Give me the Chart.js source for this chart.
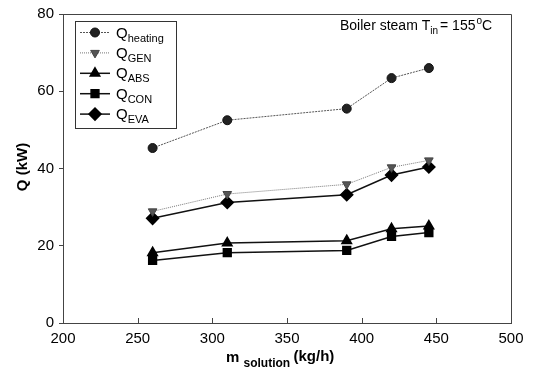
<!DOCTYPE html>
<html>
<head>
<meta charset="utf-8">
<script src="https://cdn.jsdelivr.net/npm/chart.js@4.4.1/dist/chart.umd.min.js"></script>
<style>
  html, body { margin: 0; padding: 0; background: #fff; }
  #wrap { width: 534px; height: 373px; }
</style>
</head>
<body>
<div id="wrap"><canvas id="myChart" width="534" height="373"></canvas></div>
<script>
// solution mass flow (kg/h)
const flow = [260, 310, 390, 420, 445];

// heat loads (kW)
const qHeating = [45.3, 52.5, 55.5, 63.4, 66.0];
const qGen = [28.9, 33.4, 35.9, 40.3, 42.1];
const qAbs = [18.2, 20.7, 21.3, 24.4, 25.1];
const qCon = [16.2, 18.2, 18.8, 22.4, 23.4];
const qEva = [27.1, 31.2, 33.2, 38.3, 40.4];

const seriesNames = ['heating', 'GEN', 'ABS', 'CON', 'EVA'];
const xTicks = [200, 250, 300, 350, 400, 450, 500];
const yTicks = [0, 20, 40, 60, 80];

const FONT = 'Arial, "Liberation Sans", sans-serif';

function pts(ys) {
    return flow.map((x, i) => ({ x: x, y: ys[i] }));
}

// "Q" with a lowered subscript, returns end x
function subText(ctx, base, sub, x, y, size, subSize, drop, bold) {
    const w = bold ? 'bold ' : '';
    ctx.font = w + size + 'px ' + FONT;
    ctx.fillText(base, x, y);
    let nx = x + ctx.measureText(base).width;
    ctx.font = w + subSize + 'px ' + FONT;
    ctx.fillText(sub, nx, y + drop);
    return nx + ctx.measureText(sub).width;
}

// frame, inward x ticks, legend box, annotation and axis titles
const decorations = {
    id: 'decorations',
    afterDraw(chart) {
        const ctx = chart.ctx;
        const area = chart.chartArea;
        const xs = chart.scales.x;
        ctx.save();
        ctx.strokeStyle = '#444';
        ctx.lineWidth = 1;
        ctx.beginPath();
        ctx.moveTo(area.left, area.top + 0.5);
        ctx.lineTo(area.right + 0.5, area.top + 0.5);
        ctx.lineTo(area.right + 0.5, area.bottom);
        ctx.stroke();

        // x ticks point into the plot
        ctx.beginPath();
        xTicks.slice(1, -1).forEach(v => {
            const px = Math.round(xs.getPixelForValue(v)) + 0.5;
            ctx.moveTo(px, area.bottom);
            ctx.lineTo(px, area.bottom - 5);
        });
        ctx.stroke();

        // legend
        const lx = 75.5, ly = 21.5, lw = 101, lh = 107;
        ctx.strokeStyle = '#333';
        ctx.strokeRect(lx, ly, lw, lh);
        ctx.fillStyle = '#000';
        ctx.textBaseline = 'alphabetic';
        chart.data.datasets.forEach((ds, i) => {
            const cy = 32.5 + i * 20.4;
            ctx.save();
            ctx.strokeStyle = ds.borderColor;
            ctx.lineWidth = ds.borderWidth;
            ctx.setLineDash(ds.borderDash || []);
            ctx.beginPath();
            ctx.moveTo(80, cy);
            ctx.lineTo(110, cy);
            ctx.stroke();
            ctx.setLineDash([]);
            ctx.fillStyle = ds.pointBackgroundColor;
            ctx.strokeStyle = ds.pointBorderColor;
            Chart.helpers.drawPoint(ctx, {
                pointStyle: ds.pointStyle,
                rotation: ds.pointRotation || 0,
                radius: ds.pointRadius,
                borderWidth: 1
            }, 95, cy);
            ctx.restore();
            subText(ctx, 'Q', seriesNames[i], 116, cy + 5, 15, 11, 4, false);
        });

        // boiler steam annotation
        let ex = subText(ctx, 'Boiler steam T', 'in', 340, 30, 14, 10, 4, false);
        ctx.font = '14px ' + FONT;
        ctx.fillText('= 155', ex + 2, 30);
        ex += 2 + ctx.measureText('= 155').width;
        ctx.font = '10px ' + FONT;
        ctx.fillText('o', ex + 1, 24);
        ex += 1 + ctx.measureText('o').width;
        ctx.font = '14px ' + FONT;
        ctx.fillText('C', ex, 30);

        // axis titles
        ctx.font = 'bold 15px ' + FONT;
        ctx.textAlign = 'left';
        let tx = 226;
        ctx.fillText('m', tx, 362);
        tx += ctx.measureText('m ').width;
        ctx.font = 'bold 12px ' + FONT;
        ctx.fillText('solution', tx, 367);
        tx += ctx.measureText('solution ').width;
        ctx.font = 'bold 15px ' + FONT;
        ctx.fillText('(kg/h)', tx, 361);

        ctx.translate(27, 167);
        ctx.rotate(-Math.PI / 2);
        ctx.textAlign = 'center';
        ctx.fillText('Q (kW)', 0, 0);
        ctx.restore();
    }
};

const ctx = document.getElementById('myChart').getContext('2d');
const myChart = new Chart(ctx, {
    type: 'line',
    data: {
        datasets: [
            {
                label: 'Q heating',
                data: pts(qHeating),
                borderColor: '#555',
                borderWidth: 1,
                borderDash: [2, 1],
                pointStyle: 'circle',
                pointRadius: 4.5,
                pointBackgroundColor: '#222',
                pointBorderColor: '#111'
            },
            {
                label: 'Q GEN',
                data: pts(qGen),
                borderColor: '#777',
                borderWidth: 1,
                borderDash: [1, 1],
                pointStyle: 'triangle',
                pointRotation: 180,
                pointRadius: 5,
                pointBackgroundColor: '#555',
                pointBorderColor: '#444'
            },
            {
                label: 'Q ABS',
                data: pts(qAbs),
                borderColor: '#111',
                borderWidth: 1.5,
                pointStyle: 'triangle',
                pointRadius: 5.5,
                pointBackgroundColor: '#000',
                pointBorderColor: '#000'
            },
            {
                label: 'Q CON',
                data: pts(qCon),
                borderColor: '#111',
                borderWidth: 1.5,
                pointStyle: 'rect',
                pointRadius: 5.5,
                pointBackgroundColor: '#000',
                pointBorderColor: '#000'
            },
            {
                label: 'Q EVA',
                data: pts(qEva),
                borderColor: '#111',
                borderWidth: 1.5,
                pointStyle: 'rectRot',
                pointRadius: 6,
                pointBackgroundColor: '#000',
                pointBorderColor: '#000'
            }
        ]
    },
    options: {
        responsive: false,
        animation: false,
        layout: { padding: { top: 12, right: 23, left: 0, bottom: 0 } },
        plugins: {
            legend: { display: false },
            tooltip: { enabled: false }
        },
        scales: {
            x: {
                type: 'linear',
                min: xTicks[0],
                max: xTicks[xTicks.length - 1],
                afterBuildTicks: s => { s.ticks = xTicks.map(v => ({ value: v })); },
                afterFit: s => { s.height = 50; },
                border: { display: true, color: '#444', width: 1 },
                grid: { drawOnChartArea: false, drawTicks: false },
                ticks: {
                    color: '#000',
                    padding: 7,
                    font: { family: FONT, size: 15 },
                    maxRotation: 0
                }
            },
            y: {
                min: yTicks[0],
                max: yTicks[yTicks.length - 1],
                afterBuildTicks: s => { s.ticks = yTicks.map(v => ({ value: v })); },
                afterFit: s => { s.width = 63; },
                border: { display: true, color: '#444', width: 1 },
                grid: { drawOnChartArea: false, drawTicks: true, tickLength: 4, color: '#444' },
                ticks: {
                    color: '#000',
                    padding: 5,
                    font: { family: FONT, size: 15 }
                }
            }
        }
    },
    plugins: [decorations]
});
</script>
</body>
</html>
